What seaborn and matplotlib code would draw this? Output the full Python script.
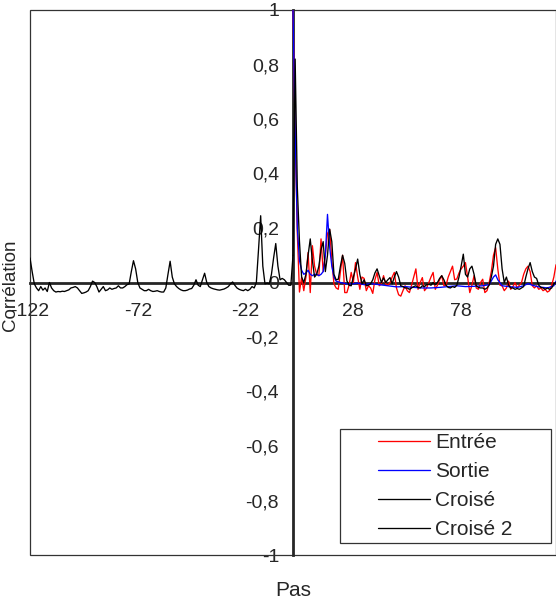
"""
Autocorrélation / corrélation croisée en fonction du pas
"""
import numpy as np
import matplotlib
matplotlib.use("Agg")
import matplotlib.pyplot as plt
from matplotlib.patches import Rectangle
import seaborn as sns

# Entrée : autocorrélation du signal d'entrée (pas 0 -> 124)
entree_pas = list(range(0, 125))
entree = [1.0, 0.55, 0.18, -0.035, 0.02, -0.03, 0.02, 0.11, -0.037, 0.135,
          0.06, 0.03, 0.025, 0.16, 0.04, 0.1, 0.18, 0.195, 0.08, -0.005,
          -0.02, -0.025, 0.04, 0.1, -0.037, -0.037, -0.01, 0.037, 0.0, 0.073,
          0.02, -0.025, 0.02, 0.015, -0.03, -0.012, -0.02, -0.04, 0.01, 0.037,
          -0.012, -0.005, 0.025, -0.005, -0.01, 0.0, 0.02, 0.037, -0.02, -0.045,
          -0.05, -0.03, -0.012, -0.03, -0.037, -0.01, 0.02, 0.05, -0.025, 0.0,
          0.018, -0.03, -0.02, 0.0, 0.02, 0.037, -0.025, -0.01, 0.01, 0.025,
          -0.012, -0.01, 0.02, 0.04, 0.06, 0.01, 0.013, 0.035, 0.05, 0.06,
          0.073, 0.02, -0.037, -0.01, 0.025, -0.02, -0.025, 0.0, 0.012, -0.037,
          -0.03, 0.0, 0.04, 0.1, 0.128, 0.05, -0.01, -0.012, -0.03, -0.02,
          0.005, -0.025, -0.015, 0.0, -0.02, -0.01, 0.0, 0.03, 0.05, 0.06,
          0.04, -0.012, -0.02, -0.012, -0.025, -0.02, -0.03, -0.025, -0.035, -0.03,
          -0.01, 0.02, 0.065, 0.03, 0.0]

# Sortie : autocorrélation du signal de sortie
sortie_pas = [0, 1, 2, 3, 4, 5, 6, 7, 8, 9, 10, 11, 12, 13, 14, 15, 16, 17, 18,
              19, 20, 22, 25, 28, 30, 33, 36, 40, 44, 48, 52, 56, 60, 64, 68,
              72, 76, 80, 84, 88, 91, 93, 94, 95, 97, 100, 104, 107, 109, 111,
              114, 118, 121, 122, 124]
sortie = [1.0, 0.55, 0.2, 0.08, 0.045, 0.03, 0.035, 0.045, 0.03, 0.025, 0.03,
          0.03, 0.025, 0.03, 0.04, 0.1, 0.25, 0.13, 0.06, 0.02, 0.005, 0.0,
          -0.005, -0.005, -0.002, -0.008, -0.004, -0.008, -0.012, -0.016,
          -0.015, -0.018, -0.02, -0.02, -0.018, -0.015, -0.012, -0.015, -0.014,
          -0.012, -0.008, 0.02, 0.028, 0.01, -0.012, -0.015, -0.018, -0.012,
          -0.004, -0.01, -0.016, -0.02, -0.012, 0.005, 0.01]

# Croisé : corrélation croisée, pas positifs
croise_pas = list(range(0, 123))
croise = [0.1, 0.82, 0.35, 0.15, 0.02, 0.0, 0.03, 0.1, 0.16, 0.08,
          0.02, 0.03, 0.06, 0.12, 0.15, 0.04, 0.1, 0.196, 0.15, 0.03,
          0.01, 0.012, 0.06, 0.1, 0.07, 0.006, -0.01, -0.012, 0.02, 0.05,
          0.086, 0.03, -0.005, 0.01, -0.012, -0.01, -0.005, 0.01, 0.035, 0.05,
          0.025, 0.0, 0.017, 0.0, 0.01, 0.018, -0.005, 0.02, 0.04, 0.02,
          -0.012, -0.015, -0.02, -0.02, -0.025, -0.02, -0.015, -0.012, -0.018, -0.02,
          -0.012, -0.015, -0.008, -0.006, -0.01, 0.0, -0.008, 0.0, 0.015, 0.025,
          0.01, -0.01, -0.018, -0.02, -0.015, -0.018, -0.01, 0.02, 0.06, 0.104,
          0.03, 0.02, 0.05, 0.06, 0.03, -0.012, -0.018, -0.02, -0.02, -0.025,
          -0.02, -0.01, 0.02, 0.06, 0.14, 0.16, 0.14, 0.05, 0.0, 0.02,
          -0.01, -0.02, -0.02, -0.025, -0.022, -0.025, -0.02, -0.015, 0.02, 0.05,
          0.073, 0.04, 0.02, 0.015, -0.01, -0.018, -0.02, -0.025, -0.02, -0.025,
          -0.02, -0.005, 0.0]

# Croisé 2 : corrélation croisée, pas négatifs
croise2_pas = list(range(-122, 1))
croise2 = [0.09, 0.04, -0.005, -0.02, -0.03, -0.015, -0.028, -0.02, -0.033, 0.0,
           -0.02, -0.03, -0.035, -0.033, -0.034, -0.032, -0.033, -0.03, -0.027, -0.02,
           -0.018, -0.015, -0.02, -0.03, -0.04, -0.038, -0.035, -0.03, -0.015, 0.005,
           0.0, -0.015, -0.035, -0.025, -0.015, -0.03, -0.027, -0.02, -0.025, -0.022,
           -0.02, -0.012, -0.02, -0.02, -0.015, -0.008, -0.005, 0.04, 0.08, 0.05,
           0.0, -0.02, -0.025, -0.03, -0.03, -0.025, -0.03, -0.033, -0.032, -0.03,
           -0.033, -0.035, -0.035, -0.02, 0.03, 0.078, 0.02, -0.005, -0.015, -0.022,
           -0.027, -0.03, -0.03, -0.028, -0.024, -0.022, -0.01, 0.01, -0.01, -0.015,
           0.01, 0.034, 0.0, -0.015, -0.02, -0.023, -0.025, -0.027, -0.028, -0.026,
           -0.024, -0.02, -0.015, -0.005, 0.002, -0.01, -0.02, -0.025, -0.028, -0.03,
           -0.025, -0.03, -0.025, -0.015, -0.02, 0.0, 0.12, 0.245, 0.06, -0.005,
           -0.002, -0.005, 0.03, 0.09, 0.143, 0.06, 0.01, 0.015, 0.01, 0.0,
           -0.01, -0.01, 0.1]

x_ticks = [-122, -72, -22, 28, 78]
y_ticks = [-1, -0.8, -0.6, -0.4, -0.2, 0, 0.2, 0.4, 0.6, 0.8, 1]
y_tick_labels = ["-1", "-0,8", "-0,6", "-0,4", "-0,2", "0", "0,2", "0,4", "0,6", "0,8", "1"]

sns.set_style("white")
plt.rcParams['font.family'] = ['Liberation Sans', 'DejaVu Sans']

W, H = 556, 601
fig = plt.figure(figsize=(W / 100, H / 100), dpi=100)
# plot area: x 30 -> 556 px, y 10 -> 555 px
ax = fig.add_axes([30 / W, (H - 555) / H, 526 / W, 545 / H])
ax.patch.set_alpha(0)

series = [
    (entree_pas, entree, "red", "Entrée"),
    (sortie_pas, sortie, "blue", "Sortie"),
    (croise_pas, croise, "black", "Croisé"),
    (croise2_pas, croise2, "black", "Croisé 2"),
]
for xs, ys, col, lab in series:
    sns.lineplot(x=xs, y=ys, color=col, linewidth=0.95, label=lab, ax=ax,
                 legend=False, zorder=4)

ax.set_xlim(-122, 122)
ax.set_ylim(-1, 1)

# axes crossing at zero
for side in ("top", "right"):
    ax.spines[side].set_visible(False)
ax.spines["left"].set_position(("data", 0))
ax.spines["bottom"].set_position(("data", 0))
ax.spines["left"].set_linewidth(2)
ax.spines["bottom"].set_linewidth(2)
ax.spines["left"].set_zorder(3)
ax.spines["bottom"].set_zorder(3)

ax.set_xticks(x_ticks)
ax.set_xticklabels([str(t) for t in x_ticks])
ax.set_yticks(y_ticks)
ax.set_yticklabels(y_tick_labels)
ax.tick_params(axis="x", direction="out", length=4.5, width=2, pad=10, labelsize=14)
ax.tick_params(axis="y", direction="out", length=5, width=2, pad=5, labelsize=14)
ax.set_xlabel("")
ax.set_ylabel("")

# plot area frame
ax.add_patch(Rectangle((0, 0), 1, 1, transform=ax.transAxes, fill=False,
                       edgecolor="#333333", linewidth=0.9, clip_on=False, zorder=1))

fig.text(11 / W, 1 - 285 / H, "Corrélation", rotation=90, ha="center",
         va="center", fontsize=13.5)
fig.text(293 / W, 1 - 590 / H, "Pas", ha="center", va="center", fontsize=15)

# legend with a wide frame
fig.patches.append(Rectangle((340 / W, (H - 543) / H), 211 / W, 114 / H,
                             transform=fig.transFigure, fill=True, facecolor="white",
                             edgecolor="#333333", linewidth=0.9, zorder=3))
handles, labels = ax.get_legend_handles_labels()
leg = fig.legend(handles, labels, loc="upper left",
                 bbox_to_anchor=(378 / W, 1 - 433.5 / H), frameon=False,
                 fontsize=15, handlelength=2.5, handletextpad=0.24,
                 labelspacing=0.47, borderpad=0, borderaxespad=0)
leg.set_zorder(4)

fig.savefig("out.png", dpi=100)
